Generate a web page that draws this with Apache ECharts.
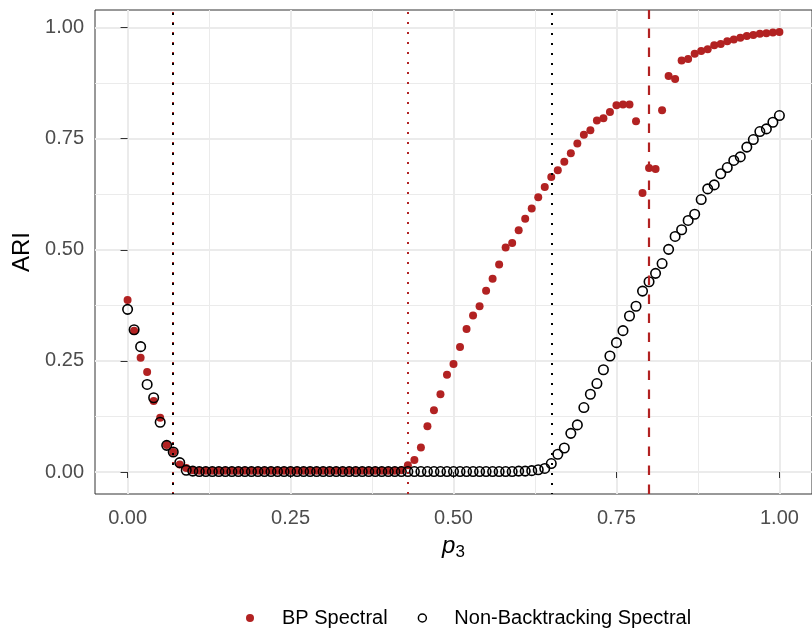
<!DOCTYPE html>
<html>
<head>
<meta charset="utf-8">
<script src="https://cdn.jsdelivr.net/npm/echarts@6/dist/echarts.min.js"></script>
<style>
  html, body { margin: 0; padding: 0; background: #fff; }
  #myChart { width: 812px; height: 630px; }
</style>
</head>
<body>
<div id="myChart"></div>
<script>
// p3 grid (x values)
const p3 = [
  0.00,0.01,0.02,0.03,0.04,0.05,0.06,0.07,0.08,0.09,
  0.10,0.11,0.12,0.13,0.14,0.15,0.16,0.17,0.18,0.19,
  0.20,0.21,0.22,0.23,0.24,0.25,0.26,0.27,0.28,0.29,
  0.30,0.31,0.32,0.33,0.34,0.35,0.36,0.37,0.38,0.39,
  0.40,0.41,0.42,0.43,0.44,0.45,0.46,0.47,0.48,0.49,
  0.50,0.51,0.52,0.53,0.54,0.55,0.56,0.57,0.58,0.59,
  0.60,0.61,0.62,0.63,0.64,0.65,0.66,0.67,0.68,0.69,
  0.70,0.71,0.72,0.73,0.74,0.75,0.76,0.77,0.78,0.79,
  0.80,0.81,0.82,0.83,0.84,0.85,0.86,0.87,0.88,0.89,
  0.90,0.91,0.92,0.93,0.94,0.95,0.96,0.97,0.98,0.99,
  1.00
];

// ARI, BP Spectral
const bpSpectral = [
  0.387,0.318,0.257,0.225,0.160,0.122,0.061,0.045,0.017,0.009,
  0.004,0.003,0.003,0.003,0.003,0.003,0.003,0.003,0.003,0.003,
  0.003,0.003,0.003,0.003,0.003,0.003,0.003,0.003,0.003,0.003,
  0.003,0.003,0.003,0.003,0.003,0.003,0.003,0.003,0.003,0.003,
  0.003,0.003,0.004,0.015,0.027,0.055,0.103,0.139,0.175,0.219,
  0.243,0.281,0.322,0.352,0.373,0.408,0.435,0.467,0.505,0.515,
  0.544,0.570,0.593,0.618,0.641,0.664,0.679,0.698,0.717,0.739,
  0.759,0.769,0.791,0.796,0.810,0.825,0.827,0.827,0.789,0.628,
  0.684,0.682,0.814,0.891,0.884,0.926,0.929,0.941,0.947,0.951,
  0.960,0.963,0.969,0.973,0.977,0.981,0.983,0.986,0.987,0.989,
  0.990
];

// ARI, Non-Backtracking Spectral
const nbSpectral = [
  0.366,0.320,0.282,0.197,0.167,0.112,0.060,0.045,0.021,0.004,
  0.002,0.001,0.001,0.001,0.001,0.001,0.001,0.001,0.001,0.001,
  0.001,0.001,0.001,0.001,0.001,0.001,0.001,0.001,0.001,0.001,
  0.001,0.001,0.001,0.001,0.001,0.001,0.001,0.001,0.001,0.001,
  0.001,0.001,0.001,0.001,0.001,0.001,0.001,0.001,0.001,0.001,
  0.001,0.001,0.001,0.001,0.001,0.001,0.001,0.001,0.001,0.001,
  0.002,0.002,0.003,0.005,0.008,0.019,0.040,0.054,0.087,0.106,
  0.145,0.175,0.199,0.230,0.261,0.291,0.318,0.351,0.373,0.407,
  0.428,0.447,0.469,0.501,0.530,0.545,0.566,0.580,0.613,0.637,
  0.646,0.671,0.685,0.701,0.709,0.731,0.748,0.766,0.772,0.787,
  0.802
];

// thresholds (vertical lines)
const bpLines = [0.0735, 0.426];
const bpDashed = [0.8];
const nbLines = [0.0735, 0.653];

const majorTicks = [0, 0.25, 0.5, 0.75, 1];
const minorTicks = [0.125, 0.375, 0.625, 0.875];

const red = "#B22222";
const font = "Liberation Sans, Arial, Helvetica, sans-serif";

const chart = echarts.init(document.getElementById("myChart"));

const gridLine = (w) => ({ show: true, lineStyle: { color: "#EBEBEB", width: w } });

chart.setOption({
  animation: false,
  backgroundColor: "#fff",
  textStyle: { fontFamily: font },
  grid: {
    left: 95, top: 10, width: 722, height: 484,
    show: true, borderColor: "#333", borderWidth: 1, backgroundColor: "transparent"
  },
  legend: {
    left: 241, top: 603,
    itemWidth: 54, itemHeight: 8, itemGap: 30,
    textStyle: { fontSize: 20, color: "#000", fontFamily: font },
    data: [
      { name: "BP Spectral", icon: "circle", itemStyle: { color: red, borderWidth: 0 } },
      { name: "Non-Backtracking Spectral", icon: "circle",
        itemStyle: { color: "rgba(0,0,0,0)", borderColor: "#000", borderWidth: 1.5 } }
    ]
  },
  xAxis: [
    {
      type: "value", min: -0.05, max: 1.05,
      name: "{p|p}{s|3}", nameLocation: "middle", nameGap: 37,
      nameTextStyle: {
        rich: {
          p: { fontSize: 24, fontStyle: "italic", lineHeight: 30, fontFamily: font, color: "#000" },
          s: { fontSize: 17, lineHeight: 14, verticalAlign: "bottom", fontFamily: font, color: "#000" }
        }
      },
      axisLine: { show: false },
      axisTick: { show: true, length: 6, customValues: majorTicks, lineStyle: { color: "#333" } },
      axisLabel: { customValues: majorTicks, fontSize: 20, color: "#4D4D4D", margin: 14,
        formatter: (v) => v.toFixed(2) },
      splitLine: gridLine(2)
    },
    {
      type: "value", min: -0.05, max: 1.05, position: "bottom",
      axisLine: { show: false },
      axisTick: { show: false, customValues: minorTicks },
      axisLabel: { show: false, customValues: minorTicks },
      splitLine: gridLine(1)
    }
  ],
  yAxis: [
    {
      type: "value", min: -0.0495, max: 1.0395,
      name: "ARI", nameLocation: "middle", nameGap: 59,
      nameTextStyle: { fontSize: 24, color: "#000", fontFamily: font },
      axisLine: { show: false },
      axisTick: { show: true, length: 7, customValues: majorTicks, lineStyle: { color: "#333" } },
      axisLabel: { customValues: majorTicks, fontSize: 20, color: "#4D4D4D", margin: 11,
        formatter: (v) => v.toFixed(2) },
      splitLine: gridLine(2)
    },
    {
      type: "value", min: -0.0495, max: 1.0395, position: "left",
      axisLine: { show: false },
      axisTick: { show: false, customValues: minorTicks },
      axisLabel: { show: false, customValues: minorTicks },
      splitLine: gridLine(1)
    }
  ],
  series: [
    {
      name: "BP Spectral",
      type: "scatter",
      symbol: "circle",
      symbolSize: 8,
      itemStyle: { color: red, opacity: 1 },
      data: p3.map((x, i) => [x, bpSpectral[i]]),
      markLine: {
        silent: true, symbol: "none", label: { show: false },
        data: bpLines.map((v) => ({ xAxis: v, lineStyle: { color: red, width: 2, type: [2, 8] } }))
          .concat(bpDashed.map((v) => ({ xAxis: v, lineStyle: { color: red, width: 2.2, type: [9.5, 9.5] } })))
      }
    },
    {
      name: "Non-Backtracking Spectral",
      type: "scatter",
      symbol: "circle",
      symbolSize: 9.5,
      itemStyle: { color: "rgba(0,0,0,0)", borderColor: "#000", borderWidth: 1.6, opacity: 1 },
      data: p3.map((x, i) => [x, nbSpectral[i]]),
      markLine: {
        silent: true, symbol: "none", label: { show: false },
        data: nbLines.map((v) => ({ xAxis: v, lineStyle: { color: "#000", width: 2, type: [2, 8], dashOffset: 1 } }))
      }
    }
  ]
});
</script>
</body>
</html>
